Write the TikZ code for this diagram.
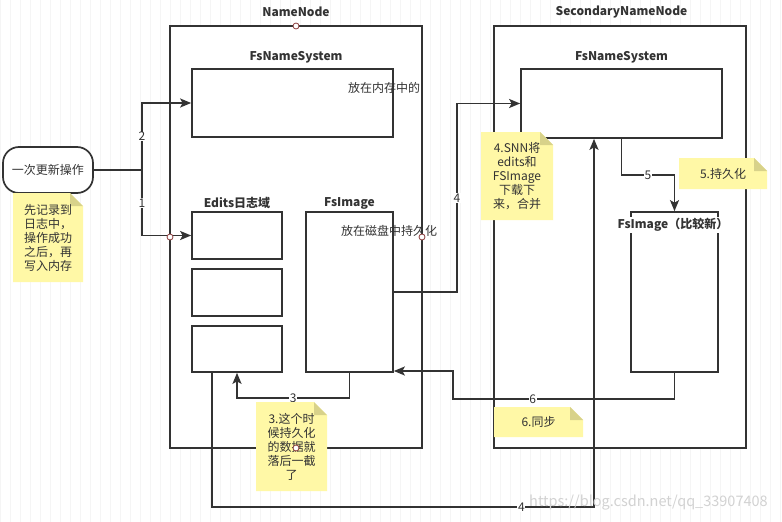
\documentclass[tikz,border=0pt]{standalone}
\usepackage{fontspec}
\setmainfont{Noto Sans CJK SC}
\usetikzlibrary{arrows.meta}
\definecolor{ln}{HTML}{333333}
\definecolor{notey}{HTML}{FFF8A6}
\definecolor{notef}{HTML}{D8D28A}
\definecolor{cptc}{HTML}{8B3A3A}
\tikzset{
 box/.style={draw=ln, line width=1.7pt, fill=white, inner sep=0pt},
 arr/.style={draw=ln, line width=1.7pt, -{Stealth[length=11pt,width=9pt,inset=2.5pt]}},
 con/.style={draw=ln, line width=1.7pt},
 lbl/.style={fill=white, inner sep=0.6pt, font=\fontsize{12}{12}\selectfont, text=ln},
 ttl/.style={font=\bfseries\fontsize{12}{14}\selectfont, text=ln, inner sep=1pt},
 ntext/.style={align=center, font=\fontsize{12}{14}\selectfont, text=ln, inner sep=0pt},
 plain/.style={font=\fontsize{12}{14}\selectfont, text=ln, inner sep=0pt},
 cpt/.style={circle, draw=cptc, fill=white, line width=0.8pt, inner sep=0pt, minimum size=6pt},
}
\newcommand\stickynote[6]{%
 \fill[notey] (#2,#3) -- (#4-13,#3) -- (#4,#3+13) -- (#4,#5) -- (#2,#5) -- cycle;
 \fill[notef] (#4-13,#3) -- (#4,#3+13) -- (#4-13,#3+13) -- cycle;
 \node[ntext] (#1) at ({(#2+#4)/2},{(#3+#5)/2}) {#6};
}
\begin{document}
\begin{tikzpicture}[x=1pt,y=-1pt]
\useasboundingbox (0,0) rectangle (782,522);
\fill[white] (0,0) rectangle (782,522);
\draw[gray!8, line width=0.5pt] (0,0) grid[step=10] (782,522);

% outer boxes
\node[box, minimum width=252pt, minimum height=422pt] (NN) at (296,237) {};
\node[box, minimum width=252pt, minimum height=422pt] (SNN) at (620,237) {};
\node[ttl] (tNN) at (296,12) {NameNode};
\node[ttl] (tSNN) at (621.5,12) {SecondaryNameNode};

% NameNode contents
\node[box, minimum width=201pt, minimum height=68pt] (NNfs) at (292.5,103) {};
\node[ttl] (tNNfs) at (296,57) {FsNameSystem};
\node[plain] (mem) at (384,88) {放在内存中的};
\node[box, minimum width=90pt, minimum height=47pt] (E1) at (237,235.5) {};
\node[box, minimum width=90pt, minimum height=47pt] (E2) at (237,292.5) {};
\node[box, minimum width=90pt, minimum height=46pt] (E3) at (237,349) {};
\node[ttl] (tE) at (237,203) {Edits日志域};
\node[box, minimum width=87pt, minimum height=160pt] (FsI) at (349.5,292) {};
\node[ttl] (tFsI) at (349.5,203) {FsImage};
\node[plain] (disk) at (389,231) {放在磁盘中持久化};

% SNN contents
\node[box, minimum width=201pt, minimum height=69pt] (SNNfs) at (621.5,103.5) {};
\node[ttl] (tSNNfs) at (621.5,57) {FsNameSystem};
\node[box, minimum width=87pt, minimum height=160pt] (FsI2) at (674.5,292) {};
\node[ttl, fill=white] (tFsI2) at (673,225) {FsImage（比较新）};

% start node
\node[box, rounded corners=16pt, minimum width=90pt, minimum height=46pt,
      font=\fontsize{12}{14}\selectfont, text=ln] (start) at (48,170) {一次更新操作};

% connectors
\coordinate (j) at (142,170);
\draw[con] (start.east) -- (j);
\draw[arr] (j) |- node[lbl,pos=0.25]{2} (NNfs.west);
\draw[arr] (j) |- node[lbl,pos=0.25]{1} (E1.west);

\coordinate (c3) at (349.5,398);
\draw[arr] (FsI.south) -- (c3) -| node[lbl,pos=0.25]{3} (E3.south);

\coordinate (c4b) at (212,507);
\coordinate (c4c) at (594,507);
\draw[arr] ([xshift=-25pt]E3.south) -- (c4b) -- node[lbl,pos=0.81]{4} (c4c) -- (c4c |- SNNfs.south);

\coordinate (m4) at (457,292);
\draw[arr] (FsI.east) -- (m4) |- node[lbl,pos=0.25]{4} (SNNfs.west);

\coordinate (c5) at (621.5,175);
\draw[arr] (SNNfs.south) -- (c5) -| node[lbl,pos=0.25]{5} (FsI2.north);

\coordinate (c6a) at (674.5,399);
\coordinate (c6b) at (453,399);
\coordinate (c6c) at (453,371);
\draw[arr] (FsI2.south) -- (c6a) -- node[lbl,pos=0.64]{6} (c6b) -- (c6c) -- (c6c -| FsI.east);

% notes
\stickynote{n1}{13}{193}{83}{282}{先记录到\\日志中，\\操作成功\\之后，再\\写入内存}
\stickynote{n3}{256}{402}{327}{491}{3.这个时\\候持久化\\的数据就\\落后一截\\了}
\stickynote{n4}{481}{132}{553}{220}{4.SNN将\\edits和\\FSImage\\下载下\\来，合并}
\stickynote{n5}{679}{158}{767}{189}{5.持久化}
\stickynote{n6}{494}{407}{583}{437}{6.同步}

% connection points
\node[cpt] (p1) at (296,26) {};
\node[cpt] (p2) at (170,237) {};
\node[cpt] (p3) at (422,237) {};
\node[cpt] (p4) at (296,448) {};

% watermark
\node[anchor=west, text=gray!35, font=\fontsize{14.5}{15}\selectfont, inner sep=0pt] (wm) at (529,503) {https://blog.csdn.net/qq\_33907408};
\end{tikzpicture}
\end{document}
